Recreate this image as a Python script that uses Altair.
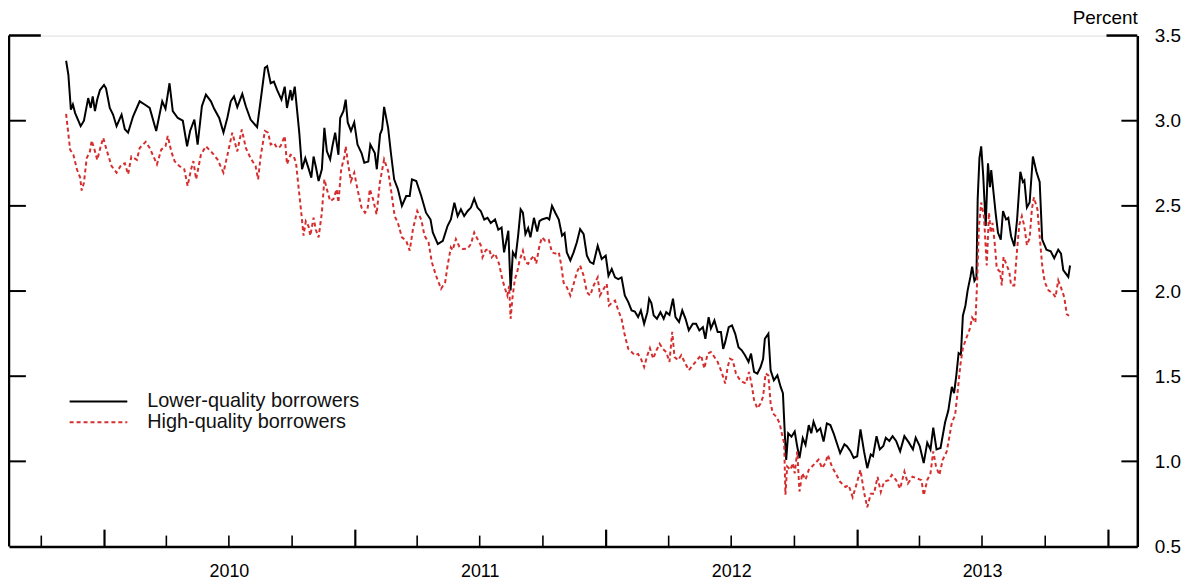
import altair as alt
import pandas as pd

# ---- data (decimal years, percent) ----
low_t = [2009.847, 2009.856, 2009.866, 2009.874, 2009.883, 2009.905, 2009.918, 2009.935, 2009.945, 2009.953,
         2009.962, 2009.971, 2009.982, 2009.998, 2010.006, 2010.021, 2010.034, 2010.048, 2010.068, 2010.081,
         2010.094, 2010.114, 2010.140, 2010.160, 2010.180, 2010.206, 2010.230, 2010.243, 2010.259, 2010.272,
         2010.292, 2010.312, 2010.329, 2010.341, 2010.358, 2010.371, 2010.388, 2010.404, 2010.424, 2010.437,
         2010.457, 2010.474, 2010.490, 2010.503, 2010.516, 2010.529, 2010.549, 2010.563, 2010.582, 2010.608,
         2010.626, 2010.639, 2010.648, 2010.662, 2010.675, 2010.688, 2010.705, 2010.718, 2010.727, 2010.741,
         2010.747, 2010.758, 2010.767, 2010.776, 2010.787, 2010.800, 2010.813, 2010.824, 2010.833, 2010.842,
         2010.853, 2010.866, 2010.876, 2010.886, 2010.899, 2010.908, 2010.919, 2010.932, 2010.939, 2010.952,
         2010.961, 2010.969, 2010.982, 2010.995, 2011.008, 2011.024, 2011.035, 2011.051, 2011.059, 2011.077,
         2011.085, 2011.098, 2011.106, 2011.114, 2011.130, 2011.141, 2011.154, 2011.169, 2011.185, 2011.202,
         2011.216, 2011.225, 2011.242, 2011.262, 2011.281, 2011.299, 2011.308, 2011.328, 2011.348, 2011.367,
         2011.380, 2011.394, 2011.407, 2011.420, 2011.433, 2011.447, 2011.460, 2011.473, 2011.486, 2011.499,
         2011.513, 2011.526, 2011.539, 2011.556, 2011.569, 2011.582, 2011.592, 2011.601, 2011.609, 2011.618,
         2011.627, 2011.638, 2011.648, 2011.658, 2011.667, 2011.677, 2011.688, 2011.697, 2011.711, 2011.724,
         2011.733, 2011.743, 2011.763, 2011.772, 2011.783, 2011.796, 2011.810, 2011.823, 2011.833, 2011.842,
         2011.856, 2011.869, 2011.882, 2011.895, 2011.909, 2011.922, 2011.935, 2011.948, 2011.965, 2011.981,
         2011.997, 2012.008, 2012.021, 2012.034, 2012.047, 2012.060, 2012.073, 2012.087, 2012.100, 2012.113,
         2012.126, 2012.137, 2012.150, 2012.163, 2012.170, 2012.179, 2012.188, 2012.201, 2012.215, 2012.228,
         2012.238, 2012.251, 2012.265, 2012.275, 2012.289, 2012.302, 2012.315, 2012.328, 2012.344, 2012.357,
         2012.370, 2012.384, 2012.394, 2012.407, 2012.416, 2012.430, 2012.443, 2012.456, 2012.465, 2012.473,
         2012.487, 2012.500, 2012.513, 2012.526, 2012.539, 2012.552, 2012.566, 2012.576, 2012.588, 2012.601,
         2012.614, 2012.624, 2012.631, 2012.645, 2012.654, 2012.667, 2012.681, 2012.694, 2012.703, 2012.711,
         2012.716, 2012.724, 2012.737, 2012.750, 2012.760, 2012.769, 2012.782, 2012.793, 2012.806, 2012.816,
         2012.825, 2012.839, 2012.852, 2012.865, 2012.878, 2012.892, 2012.905, 2012.918, 2012.931, 2012.948,
         2012.958, 2012.972, 2012.985, 2012.999, 2013.012, 2013.026, 2013.039, 2013.053, 2013.062, 2013.076,
         2013.089, 2013.103, 2013.113, 2013.127, 2013.140, 2013.154, 2013.170, 2013.187, 2013.205, 2013.221,
         2013.232, 2013.248, 2013.264, 2013.278, 2013.291, 2013.302, 2013.315, 2013.331, 2013.349, 2013.362,
         2013.376, 2013.385, 2013.394, 2013.403, 2013.412, 2013.420, 2013.430, 2013.439, 2013.450, 2013.457,
         2013.466, 2013.474, 2013.479, 2013.486, 2013.493, 2013.501, 2013.511, 2013.520, 2013.528, 2013.533,
         2013.542, 2013.551, 2013.560, 2013.571, 2013.580, 2013.592, 2013.601, 2013.612, 2013.625, 2013.636,
         2013.649, 2013.659, 2013.665, 2013.675, 2013.686, 2013.699, 2013.713, 2013.726, 2013.736, 2013.753,
         2013.770, 2013.784, 2013.800, 2013.811, 2013.820, 2013.840, 2013.847]
low_v = [3.352, 3.27, 3.065, 3.095, 3.045, 2.968, 3.0, 3.133, 3.075, 3.143,
         3.056, 3.124, 3.18, 3.21, 3.19, 3.075, 3.036, 2.968, 3.036, 2.95,
         2.93, 3.026, 3.114, 3.095, 3.075, 2.94, 3.114, 3.07, 3.22, 3.056,
         3.016, 3.0, 2.85, 2.94, 3.007, 2.86, 3.085, 3.153, 3.114, 3.07,
         3.016, 2.93, 3.02, 3.114, 3.143, 3.08, 3.157, 3.085, 3.007, 2.962,
         3.163, 3.31, 3.32, 3.22, 3.23, 3.18, 3.124, 3.20, 3.075, 3.18,
         3.12, 3.20, 3.065, 2.93, 2.715, 2.78, 2.72, 2.666, 2.79, 2.73,
         2.646, 2.715, 2.958, 2.82, 2.773, 2.85, 2.93, 2.80, 3.016, 3.056,
         3.124, 2.99, 2.94, 2.99, 2.86, 2.81, 2.753, 2.76, 2.86, 2.81,
         2.715, 2.92, 2.95, 3.081, 2.958, 2.812, 2.656, 2.598, 2.50, 2.558,
         2.558, 2.656, 2.646, 2.558, 2.46, 2.42, 2.344, 2.276, 2.295, 2.383,
         2.42, 2.519, 2.44, 2.48, 2.44, 2.47, 2.49, 2.543, 2.49, 2.47,
         2.42, 2.43, 2.40, 2.42, 2.36, 2.373, 2.227, 2.295, 2.354, 2.003,
         2.227, 2.20, 2.325, 2.48, 2.46, 2.334, 2.37, 2.315, 2.43, 2.35,
         2.41, 2.42, 2.43, 2.42, 2.50, 2.46, 2.42, 2.325, 2.34, 2.227,
         2.18, 2.227, 2.286, 2.364, 2.334, 2.208, 2.17, 2.16, 2.266, 2.188,
         2.208, 2.09, 2.13, 2.08, 2.07, 2.08, 1.974, 1.935, 1.886, 1.88,
         1.847, 1.886, 1.808, 1.876, 1.955, 1.93, 1.857, 1.837, 1.876, 1.837,
         1.876, 1.86, 1.955, 1.847, 1.818, 1.886, 1.837, 1.769, 1.808, 1.808,
         1.769, 1.788, 1.72, 1.847, 1.78, 1.827, 1.76, 1.76, 1.66, 1.70,
         1.788, 1.798, 1.749, 1.67, 1.652, 1.623, 1.584, 1.633, 1.525, 1.515,
         1.554, 1.60, 1.72, 1.75, 1.535, 1.476, 1.505, 1.437, 1.40, 1.145,
         1.009, 1.165, 1.145, 1.175, 1.087, 1.019, 1.136, 1.097, 1.213, 1.165,
         1.233, 1.175, 1.194, 1.116, 1.223, 1.213, 1.165, 1.106, 1.048, 1.10,
         1.089, 1.06, 1.02, 1.03, 1.188, 1.06, 0.96, 1.04, 1.03, 1.148,
         1.07, 1.09, 1.139, 1.12, 1.148, 1.12, 1.059, 1.148, 1.11, 1.07,
         1.139, 1.09, 0.99, 1.11, 1.07, 1.198, 1.07, 1.079, 1.228, 1.298,
         1.437, 1.40, 1.507, 1.636, 1.626, 1.855, 1.914, 2.004, 2.083, 2.143,
         2.06, 2.08, 2.54, 2.78, 2.849, 2.68, 2.382, 2.75, 2.61, 2.71,
         2.58, 2.451, 2.342, 2.302, 2.47, 2.42, 2.43, 2.322, 2.263, 2.42,
         2.70, 2.64, 2.65, 2.491, 2.52, 2.79, 2.70, 2.64, 2.302, 2.243,
         2.233, 2.193, 2.243, 2.22, 2.123, 2.083, 2.15]

high_t = [2009.847, 2009.863, 2009.876, 2009.890, 2009.903, 2009.909, 2009.918, 2009.929, 2009.942, 2009.949,
          2009.962, 2009.971, 2009.985, 2009.995, 2010.008, 2010.028, 2010.048, 2010.068, 2010.081, 2010.094,
          2010.107, 2010.129, 2010.140, 2010.164, 2010.180, 2010.209, 2010.226, 2010.243, 2010.252, 2010.266,
          2010.279, 2010.298, 2010.318, 2010.331, 2010.345, 2010.354, 2010.365, 2010.384, 2010.404, 2010.430,
          2010.450, 2010.474, 2010.490, 2010.509, 2010.529, 2010.547, 2010.563, 2010.582, 2010.602, 2010.612,
          2010.622, 2010.639, 2010.652, 2010.662, 2010.675, 2010.688, 2010.701, 2010.718, 2010.727, 2010.741,
          2010.754, 2010.763, 2010.774, 2010.784, 2010.793, 2010.802, 2010.813, 2010.820, 2010.833, 2010.842,
          2010.853, 2010.866, 2010.876, 2010.886, 2010.899, 2010.912, 2010.925, 2010.932, 2010.943, 2010.956,
          2010.961, 2010.971, 2010.982, 2010.995, 2011.008, 2011.024, 2011.038, 2011.048, 2011.057, 2011.070,
          2011.084, 2011.097, 2011.114, 2011.130, 2011.143, 2011.156, 2011.169, 2011.185, 2011.202, 2011.216,
          2011.229, 2011.246, 2011.262, 2011.275, 2011.291, 2011.304, 2011.321, 2011.341, 2011.357, 2011.367,
          2011.380, 2011.387, 2011.400, 2011.414, 2011.427, 2011.447, 2011.460, 2011.473, 2011.486, 2011.499,
          2011.506, 2011.519, 2011.532, 2011.543, 2011.556, 2011.572, 2011.585, 2011.596, 2011.605, 2011.612,
          2011.618, 2011.625, 2011.635, 2011.644, 2011.654, 2011.667, 2011.677, 2011.688, 2011.701, 2011.711,
          2011.720, 2011.733, 2011.743, 2011.756, 2011.770, 2011.783, 2011.796, 2011.810, 2011.820, 2011.829,
          2011.842, 2011.856, 2011.869, 2011.882, 2011.895, 2011.909, 2011.922, 2011.935, 2011.948, 2011.965,
          2011.974, 2011.988, 2012.001, 2012.010, 2012.021, 2012.034, 2012.047, 2012.060, 2012.073, 2012.087,
          2012.100, 2012.113, 2012.126, 2012.137, 2012.150, 2012.163, 2012.173, 2012.186, 2012.199, 2012.212,
          2012.225, 2012.238, 2012.251, 2012.262, 2012.271, 2012.285, 2012.298, 2012.311, 2012.328, 2012.344,
          2012.360, 2012.377, 2012.390, 2012.403, 2012.416, 2012.430, 2012.443, 2012.456, 2012.465, 2012.473,
          2012.483, 2012.492, 2012.503, 2012.516, 2012.528, 2012.542, 2012.555, 2012.568, 2012.579, 2012.588,
          2012.601, 2012.614, 2012.624, 2012.634, 2012.645, 2012.654, 2012.663, 2012.677, 2012.690, 2012.700,
          2012.708, 2012.713, 2012.720, 2012.733, 2012.742, 2012.750, 2012.760, 2012.769, 2012.780, 2012.793,
          2012.806, 2012.819, 2012.832, 2012.845, 2012.859, 2012.872, 2012.882, 2012.898, 2012.913, 2012.931,
          2012.952, 2012.965, 2012.981, 2012.995, 2013.012, 2013.026, 2013.039, 2013.053, 2013.066, 2013.080,
          2013.093, 2013.106, 2013.124, 2013.137, 2013.154, 2013.170, 2013.187, 2013.201, 2013.219, 2013.237,
          2013.255, 2013.264, 2013.278, 2013.291, 2013.302, 2013.313, 2013.326, 2013.340, 2013.356, 2013.376,
          2013.389, 2013.399, 2013.410, 2013.420, 2013.434, 2013.447, 2013.457, 2013.470, 2013.477, 2013.484,
          2013.493, 2013.504, 2013.515, 2013.524, 2013.531, 2013.538, 2013.547, 2013.555, 2013.568, 2013.575,
          2013.582, 2013.595, 2013.605, 2013.612, 2013.625, 2013.636, 2013.645, 2013.655, 2013.665, 2013.675,
          2013.686, 2013.695, 2013.703, 2013.717, 2013.726, 2013.736, 2013.746, 2013.761, 2013.780, 2013.789,
          2013.800, 2013.811, 2013.824, 2013.834, 2013.843]
high_v = [3.04, 2.83, 2.80, 2.715, 2.666, 2.59, 2.636, 2.78, 2.82, 2.884,
          2.82, 2.77, 2.85, 2.90, 2.83, 2.734, 2.695, 2.744, 2.75, 2.685,
          2.79, 2.77, 2.84, 2.876, 2.84, 2.744, 2.83, 2.85, 2.91, 2.82,
          2.763, 2.734, 2.715, 2.617, 2.715, 2.763, 2.656, 2.80, 2.85, 2.81,
          2.773, 2.695, 2.80, 2.93, 2.82, 2.948, 2.84, 2.78, 2.734, 2.656,
          2.79, 2.94, 2.93, 2.86, 2.87, 2.84, 2.85, 2.91, 2.744, 2.80,
          2.79, 2.753, 2.598, 2.46, 2.325, 2.41, 2.38, 2.325, 2.43, 2.36,
          2.315, 2.46, 2.656, 2.598, 2.529, 2.54, 2.598, 2.52, 2.715, 2.79,
          2.85, 2.74, 2.646, 2.695, 2.598, 2.49, 2.46, 2.48, 2.598, 2.54,
          2.45, 2.636, 2.773, 2.705, 2.578, 2.44, 2.40, 2.315, 2.295, 2.237,
          2.364, 2.47, 2.42, 2.325, 2.286, 2.17, 2.09, 2.013, 2.05, 2.15,
          2.256, 2.24, 2.305, 2.26, 2.247, 2.25, 2.276, 2.344, 2.305, 2.27,
          2.198, 2.24, 2.247, 2.198, 2.22, 2.16, 2.07, 2.013, 1.974, 2.03,
          1.837, 1.955, 2.07, 2.11, 2.18, 2.237, 2.17, 2.16, 2.19, 2.208,
          2.16, 2.266, 2.315, 2.295, 2.30, 2.227, 2.22, 2.227, 2.15, 2.05,
          2.022, 1.974, 2.04, 2.11, 2.15, 2.09, 1.993, 1.974, 2.03, 2.08,
          1.974, 2.01, 2.042, 1.915, 1.93, 1.944, 1.886, 1.837, 1.74, 1.66,
          1.642, 1.623, 1.63, 1.603, 1.554, 1.623, 1.665, 1.603, 1.652, 1.69,
          1.66, 1.642, 1.584, 1.76, 1.613, 1.594, 1.623, 1.584, 1.535, 1.564,
          1.594, 1.623, 1.545, 1.633, 1.642, 1.613, 1.584, 1.535, 1.496, 1.457,
          1.555, 1.603, 1.594, 1.515, 1.486, 1.467, 1.457, 1.525, 1.447, 1.36,
          1.311, 1.34, 1.38, 1.516, 1.505, 1.34, 1.282, 1.262, 1.223, 1.155,
          1.106, 0.804, 0.97, 0.95, 0.99, 0.93, 1.058, 0.823, 0.93, 0.892,
          0.95, 0.97, 0.99, 1.01, 0.96, 0.99, 1.038, 0.97, 0.93, 0.88,
          0.85, 0.86, 0.79, 0.86, 0.95, 0.82, 0.73, 0.81, 0.81, 0.909,
          0.82, 0.88, 0.89, 0.92, 0.89, 0.84, 0.94, 0.87, 0.91, 0.90,
          0.89, 0.80, 0.89, 0.93, 1.059, 0.97, 0.92, 1.01, 1.059, 1.228,
          1.27, 1.407, 1.566, 1.665, 1.725, 1.775, 1.844, 1.815, 2.063, 2.38,
          2.52, 2.44, 2.15, 2.46, 2.342, 2.40, 2.28, 2.133, 2.113, 2.033,
          2.20, 2.15, 2.113, 2.033, 2.033, 2.243, 2.39, 2.44, 2.38, 2.27,
          2.31, 2.481, 2.55, 2.48, 2.322, 2.15, 2.053, 2.004, 1.984, 1.964,
          2.063, 2.02, 1.964, 1.864, 1.855]

series_names = ["Lower-quality borrowers", "High-quality borrowers"]
y_ticks = [0.5, 1.0, 1.5, 2.0, 2.5, 3.0, 3.5]
year_labels = [2010, 2011, 2012, 2013]
major_ticks = ["2010-01-01", "2011-01-01", "2012-01-01", "2013-01-01", "2014-01-01"]
minor_ticks = ["2009-10-01",
               "2010-04-01", "2010-07-01", "2010-10-01",
               "2011-04-01", "2011-07-01", "2011-10-01",
               "2012-04-01", "2012-07-01", "2012-10-01",
               "2013-04-01", "2013-07-01", "2013-10-01"]
x_domain = ["2009-08-15", "2014-02-12"]


def to_dates(ts):
    base = pd.Timestamp("2010-01-01")
    return [(base + pd.to_timedelta((t - 2010.0) * 365.25, unit="D")).strftime("%Y-%m-%dT%H:%M:%S") for t in ts]


low_df = pd.DataFrame({"date": to_dates(low_t), "value": low_v})
high_df = pd.DataFrame({"date": to_dates(high_t), "value": high_v})

W, H = 1135, 514
FONT = "Liberation Sans"
RED = "#d62e2e"

x_scale = alt.Scale(domain=x_domain)
y_scale = alt.Scale(domain=[0.5, 3.5], nice=False, zero=False)

x_axis = alt.Axis(values=[alt.DateTime(year=y, month=7, date=1) for y in year_labels],
                  format="%Y", ticks=False, tickSize=0, labelPadding=16, grid=False,
                  domainWidth=2.5, domainColor="black", labelFontSize=18, labelColor="black",
                  labelFont=FONT, title=None)
y_axis = alt.Axis(orient="right", values=y_ticks, format=".1f", ticks=False, tickSize=0,
                  labelPadding=17, grid=False, domainWidth=2.5, domainColor="black",
                  labelFontSize=19, labelColor="black", labelFont=FONT,
                  title="Percent", titleAngle=0, titleAlign="right", titleX=0, titleY=-12,
                  titleBaseline="alphabetic", titleFontWeight="normal", titleFontSize=19,
                  titleFont=FONT, titleColor="black")

low_line = alt.Chart(low_df).mark_line(color="black", strokeWidth=2, clip=True).encode(
    x=alt.X("date:T", scale=x_scale, axis=x_axis),
    y=alt.Y("value:Q", scale=y_scale, axis=y_axis),
)
high_line = alt.Chart(high_df).mark_line(color=RED, strokeWidth=2, strokeDash=[4, 3], clip=True).encode(
    x=alt.X("date:T", scale=x_scale),
    y=alt.Y("value:Q", scale=y_scale),
)

# inward tick marks (y on both sides, x along bottom)
yt_df = pd.DataFrame({"v": [t for t in y_ticks if 0.5 < t < 3.5]})
top_df = pd.DataFrame({"v": [3.5]})
left_ticks = alt.Chart(yt_df).mark_rule(color="black", strokeWidth=2).encode(
    y=alt.Y("v:Q", scale=y_scale), x=alt.value(0), x2=alt.value(17))
right_ticks = alt.Chart(yt_df).mark_rule(color="black", strokeWidth=2).encode(
    y=alt.Y("v:Q", scale=y_scale), x=alt.value(W - 16), x2=alt.value(W))
top_left = alt.Chart(top_df).mark_rule(color="black", strokeWidth=2.5).encode(
    y=alt.Y("v:Q", scale=y_scale), x=alt.value(0), x2=alt.value(32))
top_right = alt.Chart(top_df).mark_rule(color="black", strokeWidth=2.5).encode(
    y=alt.Y("v:Q", scale=y_scale), x=alt.value(W - 31), x2=alt.value(W))
left_border = alt.Chart(top_df).mark_rule(color="black", strokeWidth=2.5).encode(
    x=alt.value(0), y=alt.value(0), y2=alt.value(H))

maj_df = pd.DataFrame({"d": major_ticks})
min_df = pd.DataFrame({"d": minor_ticks})
x_major = alt.Chart(maj_df).mark_rule(color="black", strokeWidth=2.2).encode(
    x=alt.X("d:T", scale=x_scale), y=alt.value(H), y2=alt.value(H - 17))
x_minor = alt.Chart(min_df).mark_rule(color="black", strokeWidth=1.6).encode(
    x=alt.X("d:T", scale=x_scale), y=alt.value(H), y2=alt.value(H - 11))

# legend drawn inside the plot
leg_df = pd.DataFrame({"name": series_names})
leg_low = alt.Chart(leg_df.iloc[[0]]).mark_rule(color="black", strokeWidth=2).encode(
    x=alt.value(61), x2=alt.value(119), y=alt.value(368))
leg_high = alt.Chart(leg_df.iloc[[1]]).mark_rule(color=RED, strokeWidth=2, strokeDash=[4, 3]).encode(
    x=alt.value(61), x2=alt.value(119), y=alt.value(389))
leg_text1 = alt.Chart(leg_df.iloc[[0]]).mark_text(align="left", baseline="middle", fontSize=20,
                                                  font=FONT, color="#111").encode(
    x=alt.value(139), y=alt.value(368), text="name:N")
leg_text2 = alt.Chart(leg_df.iloc[[1]]).mark_text(align="left", baseline="middle", fontSize=20,
                                                  font=FONT, color="#111").encode(
    x=alt.value(139), y=alt.value(389), text="name:N")

chart = alt.layer(
    low_line, high_line, left_ticks, right_ticks, top_left, top_right, left_border,
    x_major, x_minor, leg_low, leg_high, leg_text1, leg_text2
).properties(
    width=W, height=H,
    autosize=alt.AutoSizeParams(type="none"),
    padding={"left": 1, "top": 26, "right": 52, "bottom": 40},
).configure_view(stroke=None).configure(font=FONT, background="white")

chart.save("out.html", embed_options={"renderer": "svg", "actions": False})
